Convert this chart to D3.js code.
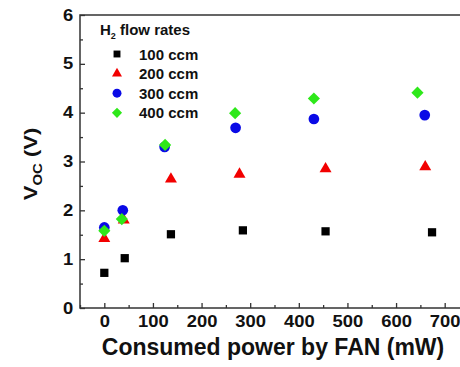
<!DOCTYPE html>
<html>
<head>
<meta charset="utf-8">
<script src="https://cdn.jsdelivr.net/npm/d3@7"></script>
<style>
  body { margin: 0; background: #fff; }
  text { font-family: "Liberation Sans", Arial, sans-serif; font-weight: bold; }
</style>
</head>
<body>
<div id="chart"></div>
<script>
// Data
const seriesNames = ["100 ccm", "200 ccm", "300 ccm", "400 ccm"];
const power100 = [0, 42, 137, 285, 455, 674];
const voc100 = [0.72, 1.02, 1.51, 1.59, 1.57, 1.55];
const power200 = [0, 40, 137, 278, 455, 660];
const voc200 = [1.42, 1.8, 2.64, 2.74, 2.85, 2.89];
const power300 = [0, 38, 124, 270, 431, 659];
const voc300 = [1.65, 2.0, 3.3, 3.69, 3.87, 3.95];
const power400 = [0, 36, 125, 269, 431, 644];
const voc400 = [1.58, 1.82, 3.34, 3.99, 4.29, 4.41];
const xTicks = [0, 100, 200, 300, 400, 500, 600, 700];
const yTicks = [0, 1, 2, 3, 4, 5, 6];

const width = 460;
const height = 367;
const margin = { top: 15, right: -9, bottom: 59, left: 80 };

const svg = d3.select("#chart")
    .append("svg")
    .attr("width", width)
    .attr("height", height);

const x = d3.scaleLinear()
    .domain([-50, 750])
    .range([margin.left, width - margin.right]);

const y = d3.scaleLinear()
    .domain([0, 6])
    .range([height - margin.bottom, margin.top]);

const axisColor = "#333";

// frame
svg.append("rect")
    .attr("x", x(-50))
    .attr("y", y(6))
    .attr("width", x(750) - x(-50))
    .attr("height", y(0) - y(6))
    .attr("fill", "none")
    .attr("stroke", axisColor)
    .attr("stroke-width", 1.5);

// x axis (ticks point inward)
const xAxis = svg.append("g")
    .attr("transform", `translate(0,${y(0)})`)
    .call(d3.axisBottom(x).tickValues(xTicks).tickSize(-5).tickPadding(8).tickFormat(d3.format("d")))
    .call(g => g.select(".domain").remove());
xAxis.selectAll("line").attr("stroke", axisColor).attr("stroke-width", 1.3);
xAxis.selectAll("text")
    .attr("font-size", 16)
    .attr("fill", "#111")
    .attr("transform", "scale(1.15,1)");

svg.append("g")
    .attr("transform", `translate(0,${y(0)})`)
    .call(d3.axisBottom(x).tickValues(d3.range(-50, 750, 100)).tickSize(-3).tickFormat(""))
    .call(g => g.select(".domain").remove())
    .selectAll("line").attr("stroke", axisColor).attr("stroke-width", 1.3);

// y axis
const yAxis = svg.append("g")
    .attr("transform", `translate(${x(-50)},0)`)
    .call(d3.axisLeft(y).tickValues(yTicks).tickSize(-5).tickPadding(6).tickFormat(d3.format("d")))
    .call(g => g.select(".domain").remove());
yAxis.selectAll("line").attr("stroke", axisColor).attr("stroke-width", 1.3);
yAxis.selectAll("text")
    .attr("font-size", 16)
    .attr("fill", "#111")
    .attr("transform", "scale(1.15,1)");

svg.append("g")
    .attr("transform", `translate(${x(-50)},0)`)
    .call(d3.axisLeft(y).tickValues(d3.range(0.5, 6, 1)).tickSize(-3).tickFormat(""))
    .call(g => g.select(".domain").remove())
    .selectAll("line").attr("stroke", axisColor).attr("stroke-width", 1.3);

// axis titles
svg.append("text")
    .attr("x", 273)
    .attr("y", 355)
    .attr("text-anchor", "middle")
    .attr("font-size", 23)
    .attr("fill", "#111")
    .text("Consumed power by FAN (mW)");

const yTitle = svg.append("text")
    .attr("transform", `translate(37,164) rotate(-90) scale(1,0.85)`)
    .attr("text-anchor", "middle")
    .attr("font-size", 22)
    .attr("fill", "#111");
yTitle.append("tspan").text("V");
yTitle.append("tspan").attr("font-size", 15).attr("dy", 6).text("OC");
yTitle.append("tspan").attr("dy", -6).text(" (V)");

// series
const diamond = {
    draw(context, size) {
        const h = Math.sqrt(size * 2) / 2;
        context.moveTo(0, -h);
        context.lineTo(h, 0);
        context.lineTo(0, h);
        context.lineTo(-h, 0);
        context.closePath();
    }
};

const series = [
    { name: seriesNames[0], xs: power100, ys: voc100, color: "#000000", symbol: d3.symbolSquare, size: 68 },
    { name: seriesNames[1], xs: power200, ys: voc200, color: "#f20000", symbol: d3.symbolTriangle, size: 62 },
    { name: seriesNames[2], xs: power300, ys: voc300, color: "#0a0ae6", symbol: d3.symbolCircle, size: 90 },
    { name: seriesNames[3], xs: power400, ys: voc400, color: "#2ee81a", symbol: diamond, size: 74 }
];

series.forEach(s => {
    svg.append("g")
        .selectAll("path")
        .data(s.xs.map((v, i) => [v, s.ys[i]]))
        .join("path")
        .attr("d", d3.symbol().type(s.symbol).size(s.size))
        .attr("transform", d => `translate(${x(d[0])},${y(d[1])})`)
        .attr("fill", s.color);
});

// legend
const legend = svg.append("g");
const lt = legend.append("text")
    .attr("x", 100)
    .attr("y", 35)
    .attr("font-size", 15)
    .attr("fill", "#111");
lt.append("tspan").text("H");
lt.append("tspan").attr("font-size", 9).attr("dy", 4).text("2");
lt.append("tspan").attr("dy", -4).text(" flow rates");

series.forEach((s, i) => {
    const yy = 54 + i * 19.6;
    legend.append("path")
        .attr("d", d3.symbol().type(s.symbol).size(s.size * 0.7))
        .attr("transform", `translate(117,${yy})`)
        .attr("fill", s.color);
    legend.append("text")
        .attr("x", 139)
        .attr("y", yy + 5.5)
        .attr("font-size", 15)
        .attr("fill", "#111")
        .text(s.name);
});
</script>
</body>
</html>
